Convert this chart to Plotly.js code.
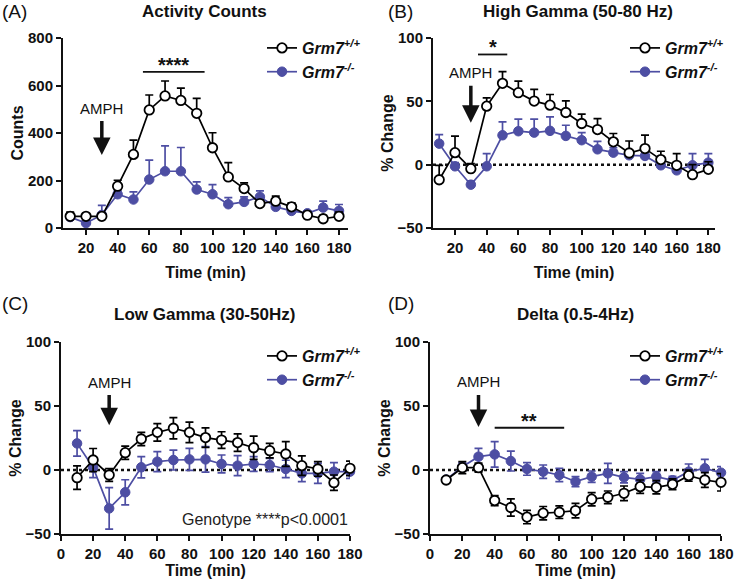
<!DOCTYPE html>
<html>
<head>
<meta charset="utf-8">
<script src="https://cdn.plot.ly/plotly-3.0.1.min.js"></script>
<style>
html,body{margin:0;padding:0;background:#fff;}
#chart{width:735px;height:586px;}
</style>
</head>
<body>
<div id="chart"></div>
<script>
// ---------------- DATA ----------------
const time = [10,20,30,40,50,60,70,80,90,100,110,120,130,140,150,160,170,180];

// (A) Activity Counts
const countsWT    = [49,49,49,176,310,497,556,537,483,338,215,166,103,113,89,54,39,49];
const countsWTerr = [18,8,10,25,60,63,63,52,63,63,60,24,14,21,17,15,14,18];
const countsKO    = [46,21,55,142,120,204,239,239,162,142,100,110,131,89,72,62,86,72];
const countsKOerr = [10,8,40,17,32,82,107,100,32,41,28,21,25,14,10,8,27,27];

// (B) High Gamma (50-80 Hz)
const highWT    = [-11.9,9.5,-3.2,46.2,64.2,56.8,50.2,47,41.2,32.5,27.7,18,9.2,12.7,4,-0.5,-7.9,-3.7];
const highWTerr = [11.4,13,4,6.6,9.2,9.2,9.2,8.4,9.2,7.4,8.7,6.6,9.5,10.6,6.6,9.2,8,6];
const highKO    = [16.6,-1.3,-15.8,-1.3,23.2,26.4,25.3,26.7,22.7,19.3,12.1,9.5,7.4,6.9,-0.5,-4.5,-0.5,1.6];
const highKOerr = [7.1,3,3,10,10.6,9.5,10.6,11,8.4,6,6.3,4,4,3,3,3,9.2,7.1];

// (C) Low Gamma (30-50Hz)
const lowWT    = [-6,7.8,-3.9,13.5,24.2,29.4,32.6,29.4,25.3,23.4,21.4,17.4,15.1,12.5,3.4,0.8,-9.9,1.3];
const lowWTerr = [9.2,9,5,5.2,5.2,6.8,8.3,8,7.6,6.5,6.8,9.1,5.7,9.6,7.6,5.7,6,5.7];
const lowKO    = [20.8,2,-30,-17.4,2.1,6.5,7.8,8.3,8.3,4.7,3.4,4.7,3.9,0.8,-2.6,-2.6,-1.3,-1.3];
const lowKOerr = [9.9,8,16.2,9.8,8.3,7.8,7.8,8.6,9.9,7,7.8,5.7,5.2,6.8,6.5,7.8,7,5.2];

// (D) Delta (0.5-4Hz)
const deltaWT    = [-7.8,1.8,1.8,-23.9,-29.3,-36.8,-33.7,-33,-31.7,-22.8,-21.3,-18.2,-13,-13.5,-11.2,-4.4,-7.8,-9.6];
const deltaWTerr = [2,4.7,3.5,3.9,6.7,5.2,5.2,4.9,5.7,5.2,4.9,5.7,5.2,5.2,4.2,4.4,5.7,6.8];
const deltaKO    = [-7.5,2.5,10.4,12.2,7,0.8,-1.3,-3.9,-9.1,-5.2,-2.6,-5.7,-7.3,-5.2,-8,-1.3,1.3,-2.1];
const deltaKOerr = [2,3,6.5,9.9,7.8,4.9,5.2,5.2,3.9,4.4,7.8,4.4,4.7,4,3,6,7,4.7];

const panelTitles = ["Activity Counts","High Gamma (50-80 Hz)","Low Gamma (30-50Hz)","Delta (0.5-4Hz)"];
const panelLabels = ["(A)","(B)","(C)","(D)"];
const yTitles = ["Counts","% Change","% Change","% Change"];
const xTitle = "Time (min)";
const wtName = "<b><i>Grm7</i></b><sup><b><i>+/+</i></b></sup>";
const koName = "<b><i>Grm7</i></b><sup><b><i>-/-</i></b></sup>";
const drugLabel = "AMPH";
const drugTime = 30;
const sigLabels = ["****","*","**"];
const genotypeNote = "Genotype ****p<0.0001";

// ---------------- STYLE ----------------
const W = 735, H = 586;
const FONT = "Liberation Sans, Arial, sans-serif";
const PURPLE = "#4d4ea3";
const px = v => v / W;
const py = v => 1 - v / H;

const panels = [
  {wt: countsWT, wte: countsWTerr, ko: countsKO, koe: countsKOerr, both: false},
  {wt: highWT, wte: highWTerr, ko: highKO, koe: highKOerr, both: false},
  {wt: lowWT, wte: lowWTerr, ko: lowKO, koe: lowKOerr, both: true},
  {wt: deltaWT, wte: deltaWTerr, ko: deltaKO, koe: deltaKOerr, both: true}
];

const zeros = time.map(() => 0);
const traces = [];
panels.forEach((p, i) => {
  const ax = i === 0 ? "" : String(i + 1);
  const lg = i === 0 ? "legend" : "legend" + (i + 1);
  traces.push({
    x: time, y: p.ko, type: "scatter", mode: "lines+markers", name: koName,
    xaxis: "x" + ax, yaxis: "y" + ax, legend: lg, legendrank: 2,
    line: {color: PURPLE, width: 1.7},
    marker: {color: PURPLE, size: 9.5, symbol: "circle", line: {color: PURPLE, width: 1}},
    error_y: {type: "data", array: p.koe, arrayminus: p.both ? p.koe : zeros, symmetric: false,
              color: PURPLE, thickness: 1.7, width: 4},
    cliponaxis: false
  });
  traces.push({
    x: time, y: p.wt, type: "scatter", mode: "lines+markers", name: wtName,
    xaxis: "x" + ax, yaxis: "y" + ax, legend: lg, legendrank: 1,
    line: {color: "#000", width: 1.7},
    marker: {color: "#fff", size: 9.5, symbol: "circle", line: {color: "#000", width: 1.8}},
    error_y: {type: "data", array: p.wte, arrayminus: p.both ? p.wte : zeros, symmetric: false,
              color: "#000", thickness: 1.7, width: 4},
    cliponaxis: false
  });
});

// plot area pixel boxes [left, right, top, bottom]
const boxes = [[63,348,38,228],[433,715,38,228],[61,350,342,534],[430,721,342,534]];
const titleCenters = [204, 578, 204, 575];
const xRanges = [[5.45,185.7],[6.1,184.2],[0,180],[0,180]];
const yRanges = [[0,800],[-50,100],[-50,100],[-50,100]];
const yDticks = [200,50,50,50];
const xStandoff = [12,12,4,4];

const tickFont = {family: FONT, size: 15, color: "#111", weight: "bold"};
const layout = {
  width: W, height: H,
  margin: {l:0, r:0, t:0, b:0},
  paper_bgcolor: "#fff", plot_bgcolor: "#fff",
  font: {family: FONT, color: "#111"},
  annotations: [], shapes: []
};

boxes.forEach((b, i) => {
  const s = i === 0 ? "" : String(i + 1);
  layout["xaxis" + s] = {
    domain: [px(b[0]), px(b[1])], range: xRanges[i], anchor: "y" + s,
    tick0: 0, dtick: 20, ticks: "outside", ticklen: 5, tickwidth: 2, tickcolor: "#111",
    showline: true, linecolor: "#111", linewidth: 2, showgrid: false, zeroline: false,
    tickfont: tickFont, fixedrange: true,
    title: {text: "<b>" + xTitle + "</b>", font: {family: FONT, size: 16, color: "#111"}, standoff: xStandoff[i]}
  };
  layout["yaxis" + s] = {
    domain: [py(b[3]), py(b[2])], range: yRanges[i], anchor: "x" + s,
    dtick: yDticks[i], ticks: "outside", ticklen: 5, tickwidth: 2, tickcolor: "#111",
    showline: true, linecolor: "#111", linewidth: 2, showgrid: false, zeroline: false,
    tickfont: tickFont, fixedrange: true,
    title: {text: "<b>" + yTitles[i] + "</b>", font: {family: FONT, size: 16, color: "#111"}, standoff: 0}
  };
  // title
  layout.annotations.push({
    xref: "paper", yref: "paper", x: px(titleCenters[i]), y: py(i < 2 ? 12 : 314),
    text: "<b>" + panelTitles[i] + "</b>", showarrow: false,
    font: {family: FONT, size: 17, color: "#111"}, xanchor: "center", yanchor: "middle"
  });
  // panel label
  layout.annotations.push({
    xref: "paper", yref: "paper", x: px(i % 2 === 0 ? 0 : 386), y: py(i < 2 ? 12 : 304),
    text: panelLabels[i], showarrow: false,
    font: {family: FONT, size: 19, color: "#111"}, xanchor: "left", yanchor: "middle"
  });
  // legends
  const lg = i === 0 ? "legend" : "legend" + (i + 1);
  layout[lg] = {
    x: px(i % 2 === 0 ? 262 : 625), y: py(i < 2 ? 31 : 339), xanchor: "left", yanchor: "top",
    bgcolor: "rgba(0,0,0,0)", borderwidth: 0, tracegroupgap: 0,
    font: {family: FONT, size: 16, color: "#111"}, itemwidth: 30
  };
  // zero dotted line
  if (i > 0) {
    layout.shapes.push({
      type: "line", xref: "x" + s + " domain", yref: "y" + s, x0: 0, x1: 1, y0: 0, y1: 0,
      line: {color: "#111", width: 2.5, dash: "dot"}, layer: "below"
    });
  }
});

// AMPH label with arrow: [axis suffix, label y (arrow tail), arrow tip y]
const amph = [["", 505, 307], ["2", 72.6, 33], ["3", 68.7, 35], ["4", 68.8, 33.5]];
amph.forEach(a => {
  layout.annotations.push({
    xref: "x" + a[0], yref: "y" + a[0], axref: "x" + a[0], ayref: "y" + a[0],
    x: drugTime, y: a[2], ax: drugTime, ay: a[1], text: drugLabel, showarrow: true,
    arrowhead: 2, arrowsize: 1, arrowwidth: 3.5, arrowcolor: "#111", standoff: 0, startstandoff: 3,
    font: {family: FONT, size: 15, color: "#111"}
  });
});

// significance bars: [axis suffix, x0, x1, y, label]
const sig = [["", 56, 95, 657, sigLabels[0]], ["2", 34.5, 53, 87, sigLabels[1]], ["4", 40, 83, 33, sigLabels[2]]];
sig.forEach(s => {
  layout.shapes.push({
    type: "line", xref: "x" + s[0], yref: "y" + s[0], x0: s[1], x1: s[2], y0: s[3], y1: s[3],
    line: {color: "#111", width: 1.8}
  });
  layout.annotations.push({
    xref: "x" + s[0], yref: "y" + s[0], x: (s[1] + s[2]) / 2, y: s[3], text: "<b>" + s[4] + "</b>",
    showarrow: false, yanchor: "bottom", yshift: -6, font: {family: FONT, size: 20, color: "#111"}
  });
});

// genotype note
layout.annotations.push({
  xref: "x3", yref: "y3", x: 180, y: -39, text: genotypeNote, showarrow: false,
  xanchor: "right", yanchor: "middle", font: {family: FONT, size: 16, color: "#222"}
});

Plotly.newPlot("chart", traces, layout, {staticPlot: true, displayModeBar: false});
</script>
</body>
</html>
